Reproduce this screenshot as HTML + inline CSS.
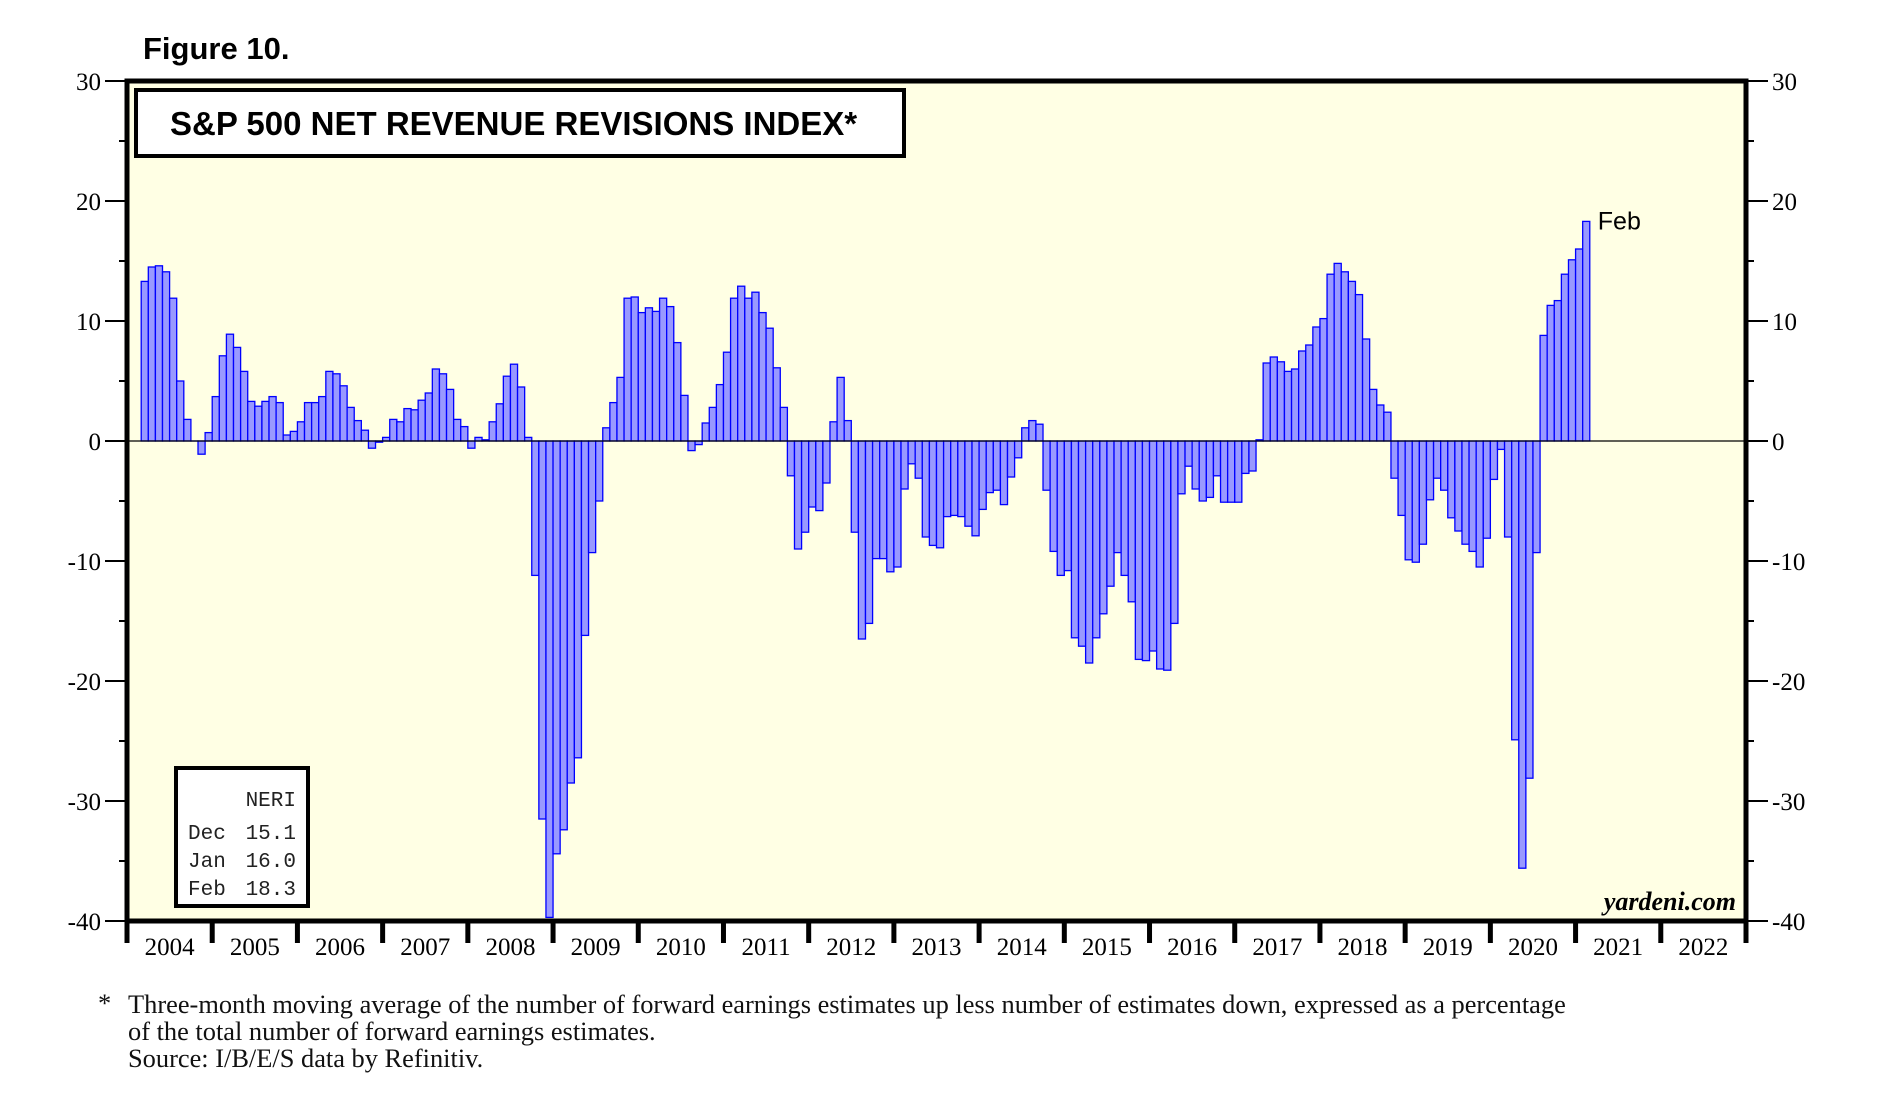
<!DOCTYPE html>
<html><head><meta charset="utf-8"><style>
body{margin:0;background:#fff;width:1885px;height:1106px;overflow:hidden}
svg{display:block}
</style></head><body>
<svg id="chart" width="1885" height="1106" xmlns="http://www.w3.org/2000/svg">
<text x="143" y="59" font-family="Liberation Sans, sans-serif" font-weight="bold" font-size="31">Figure 10.</text>
<rect x="127" y="81" width="1619" height="840" fill="#ffffe4"/>
<g id="bars"></g>
<line id="zero" x1="127" x2="1746" stroke="#000" stroke-width="1.3"/>
<g id="yaxis" font-family="Liberation Serif, serif" font-size="25"></g>
<g id="xaxis" font-family="Liberation Serif, serif" font-size="25"></g>
<rect x="127" y="81" width="1619" height="840" fill="none" stroke="#000" stroke-width="5"/>
<rect x="136" y="90" width="768" height="66" fill="#fff" stroke="#000" stroke-width="4"/>
<text x="170" y="135" font-family="Liberation Sans, sans-serif" font-weight="bold" font-size="33">S&amp;P 500 NET REVENUE REVISIONS INDEX*</text>
<g>
<rect x="176" y="776" width="132" height="138" fill="#fff" stroke="#000" stroke-width="4" transform="translate(0,-8)"/>
<g font-family="Liberation Mono, monospace" font-size="21" fill="#222" transform="translate(0,-8)">
<text x="296" y="814" text-anchor="end">NERI</text>
<text x="188" y="847">Dec</text><text x="296" y="847" text-anchor="end">15.1</text>
<text x="188" y="875">Jan</text><text x="296" y="875" text-anchor="end">16.0</text>
<text x="188" y="903">Feb</text><text x="296" y="903" text-anchor="end">18.3</text>
</g></g>
<text id="feblabel" x="1617" y="231" font-family="Liberation Sans, sans-serif" font-size="25">Feb</text>
<text x="1736" y="910" text-anchor="end" font-family="Liberation Serif, serif" font-style="italic" font-weight="bold" font-size="26">yardeni.com</text>
<g font-family="Liberation Serif, serif" font-size="26.4" fill="#111">
<text x="98" y="1012">*</text>
<text x="128" y="1013">Three-month moving average of the number of forward earnings estimates up less number of estimates down, expressed as a percentage</text>
<text x="128" y="1040">of the total number of forward earnings estimates.</text>
<text x="128" y="1067">Source: I/B/E/S data by Refinitiv.</text>
</g>
</svg>
<script>
const startYear = 2004, startMonth = 2; // data begins March 2004
const years = ['2004','2005','2006','2007','2008','2009','2010','2011','2012','2013','2014','2015','2016','2017','2018','2019','2020','2021','2022'];
const yTicks = [30,20,10,0,-10,-20,-30,-40];
const neri = [
13.3,14.5,14.6,14.1,11.9,5.0,1.8,0.0,-1.1,0.7,
3.7,7.1,8.9,7.8,5.8,3.3,2.9,3.3,3.7,3.2,0.5,0.8,
1.6,3.2,3.2,3.7,5.8,5.6,4.6,2.8,1.7,0.9,-0.6,-0.1,
0.3,1.8,1.6,2.7,2.6,3.4,4.0,6.0,5.6,4.3,1.8,1.2,
-0.6,0.3,0.1,1.6,3.1,5.4,6.4,4.5,0.3,-11.2,-31.5,-39.7,
-34.4,-32.4,-28.5,-26.4,-16.2,-9.3,-5.0,1.1,3.2,5.3,11.9,12.0,
10.7,11.1,10.8,11.9,11.2,8.2,3.8,-0.8,-0.3,1.5,2.8,4.7,
7.4,11.9,12.9,11.9,12.4,10.7,9.4,6.1,2.8,-2.9,-9.0,-7.6,
-5.5,-5.8,-3.5,1.6,5.3,1.7,-7.6,-16.5,-15.2,-9.8,-9.8,-10.9,
-10.5,-4.0,-1.9,-3.1,-8.0,-8.7,-8.9,-6.3,-6.2,-6.3,-7.1,-7.9,
-5.7,-4.3,-4.1,-5.3,-3.0,-1.4,1.1,1.7,1.4,-4.1,-9.2,-11.2,
-10.8,-16.4,-17.1,-18.5,-16.4,-14.4,-12.1,-9.3,-11.2,-13.4,-18.2,-18.3,
-17.5,-19.0,-19.1,-15.2,-4.4,-2.1,-4.0,-5.0,-4.7,-2.9,-5.1,-5.1,
-5.1,-2.7,-2.5,0.1,6.5,7.0,6.6,5.8,6.0,7.5,8.0,9.5,
10.2,13.9,14.8,14.1,13.3,12.2,8.5,4.3,3.0,2.4,-3.1,-6.2,
-9.9,-10.1,-8.6,-4.9,-3.1,-4.1,-6.4,-7.5,-8.6,-9.2,-10.5,-8.1,
-3.2,-0.7,-8.0,-24.9,-35.6,-28.1,-9.3,8.8,11.3,11.7,13.9,15.1,
16.0,18.3
];
const NS='http://www.w3.org/2000/svg';
const L=127,R=1746,T=81,B=921,yMax=30,yMin=-40;
const nMonths=years.length*12, mw=(R-L)/nMonths;
function y(v){return T+(yMax-v)/(yMax-yMin)*(B-T);}
function xm(m){return L+m*mw;}
function mk(tag,attrs,parent){const e=document.createElementNS(NS,tag);for(const k in attrs)e.setAttribute(k,attrs[k]);parent.appendChild(e);return e;}
const bars=document.getElementById('bars');
neri.forEach((v,i)=>{
  const m=startMonth+i;
  const r=mk('rect',{x:xm(m),y:Math.min(y(v),y(0)),width:mw,height:Math.max(Math.abs(y(v)-y(0)),0.01),fill:'#9999ff',stroke:'#0000ff','stroke-width':1.3},bars);
  
  
});
const z=document.getElementById('zero');z.setAttribute('y1',y(0));z.setAttribute('y2',y(0));
const lastI=neri.length-1;
document.getElementById('feblabel').setAttribute('y',y(neri[lastI])+8);
document.getElementById('feblabel').setAttribute('x',xm(startMonth+lastI)+mw+8);
const ya=document.getElementById('yaxis');
for(let v=yMin;v<=yMax;v+=5){
  const major=v%10===0;
  mk('line',{x1:L-(major?22:8),x2:L,y1:y(v),y2:y(v),stroke:'#000','stroke-width':2},ya);
  mk('line',{x1:R,x2:R+(major?22:8),y1:y(v),y2:y(v),stroke:'#000','stroke-width':2},ya);
}
yTicks.forEach(v=>{
  const t1=mk('text',{x:L-26,y:y(v)+9,'text-anchor':'end'},ya);t1.textContent=v;
  
  
  const t2=mk('text',{x:R+26,y:y(v)+9},ya);t2.textContent=v;
  
  
});
const xa=document.getElementById('xaxis');
for(let i=0;i<=years.length;i++){
  mk('line',{x1:xm(i*12),x2:xm(i*12),y1:B,y2:B+22,stroke:'#000','stroke-width':5},xa);
}
years.forEach((yr,i)=>{
  const t=mk('text',{x:xm(i*12+6),y:B+34,'text-anchor':'middle'},xa);t.textContent=yr;
  
  
});
</script>
</body></html>
